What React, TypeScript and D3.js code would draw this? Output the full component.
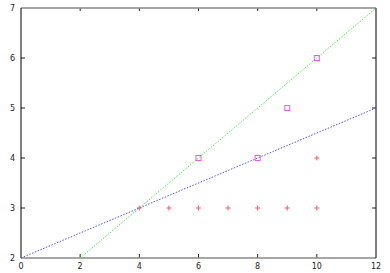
import { useEffect, useRef } from 'react';
import * as d3 from 'd3';

// red "+" points
const plusX = [4, 5, 6, 7, 8, 9, 10, 10];
const plusY = [3, 3, 3, 3, 3, 3, 3, 4];

// magenta square points
const squareX = [6, 8, 9, 10];
const squareY = [4, 4, 5, 6];

// fitted lines: [x0, y0, x1, y1]
const greenLine = [2, 2, 12, 7];
const blueLine = [0, 2, 12, 5];

const xTicks = [0, 2, 4, 6, 8, 10, 12];
const yTicks = [2, 3, 4, 5, 6, 7];

const App = () => {
  const ref = useRef<SVGSVGElement>(null);

  useEffect(() => {
    if (!ref.current) return;
    const svg = d3.select(ref.current);
    svg.selectAll('*').remove();

    const left = 21, right = 376, top = 8, bottom = 258;
    const x = d3.scaleLinear().domain([0, 12]).range([left, right]);
    const y = d3.scaleLinear().domain([2, 7]).range([bottom, top]);

    svg.append('rect').attr('width', 390).attr('height', 273).attr('fill', '#fff');

    // ticks (inward on all four sides)
    const g = svg.append('g').attr('stroke', '#222').attr('stroke-width', 1);
    xTicks.slice(1, -1).forEach((t) => {
      g.append('line').attr('x1', x(t)).attr('x2', x(t)).attr('y1', bottom).attr('y2', bottom - 4);
      g.append('line').attr('x1', x(t)).attr('x2', x(t)).attr('y1', top).attr('y2', top + 3);
    });
    yTicks.slice(1, -1).forEach((t) => {
      g.append('line').attr('x1', left).attr('x2', left + 4).attr('y1', y(t)).attr('y2', y(t));
      g.append('line').attr('x1', right).attr('x2', right - 4).attr('y1', y(t)).attr('y2', y(t));
    });

    // frame: top and bottom gray, sides black
    svg.append('line').attr('x1', left).attr('x2', right).attr('y1', top).attr('y2', top)
      .attr('stroke', '#888').attr('stroke-width', 1.5);
    svg.append('line').attr('x1', left).attr('x2', right).attr('y1', bottom).attr('y2', bottom)
      .attr('stroke', '#888').attr('stroke-width', 1.5);
    svg.append('line').attr('x1', left).attr('x2', left).attr('y1', top).attr('y2', bottom)
      .attr('stroke', '#000').attr('stroke-width', 1);
    svg.append('line').attr('x1', right).attr('x2', right).attr('y1', top).attr('y2', bottom)
      .attr('stroke', '#000').attr('stroke-width', 1);

    // tick labels
    const font = 'DejaVu Sans, sans-serif';
    svg.append('g').selectAll('text').data(xTicks).enter().append('text')
      .attr('x', (d) => x(d)).attr('y', 269)
      .attr('text-anchor', 'middle').attr('font-size', 8).attr('font-family', font)
      .attr('fill', '#222').text((d) => d);
    svg.append('g').selectAll('text').data(yTicks).enter().append('text')
      .attr('x', 15).attr('y', (d) => y(d) + 3)
      .attr('text-anchor', 'end').attr('font-size', 8).attr('font-family', font)
      .attr('fill', '#222').text((d) => d);

    // lines
    const drawLine = (l: number[], color: string) => {
      svg.append('line')
        .attr('x1', x(l[0])).attr('y1', y(l[1]))
        .attr('x2', x(l[2])).attr('y2', y(l[3]))
        .attr('stroke', color).attr('stroke-width', 1)
        .attr('stroke-dasharray', '1.5,1.5');
    };
    drawLine(greenLine, '#44ee44');
    drawLine(blueLine, '#5555ee');

    // red pluses
    const plus = svg.append('g').attr('stroke', '#ff5566').attr('stroke-width', 1);
    plusX.forEach((px, i) => {
      const cx = x(px), cy = y(plusY[i]);
      plus.append('line').attr('x1', cx - 2.5).attr('x2', cx + 2.5).attr('y1', cy).attr('y2', cy);
      plus.append('line').attr('x1', cx).attr('x2', cx).attr('y1', cy - 2.5).attr('y2', cy + 2.5);
    });

    // magenta squares
    svg.append('g').selectAll('rect').data(squareX).enter().append('rect')
      .attr('x', (d) => x(d) - 2.5)
      .attr('y', (_, i) => y(squareY[i]) - 2.5)
      .attr('width', 5).attr('height', 5)
      .attr('fill', 'none').attr('stroke', '#f055f0').attr('stroke-width', 1);
  }, []);

  return (
    <svg ref={ref} width={390} height={273}
      style={{ position: 'absolute', left: 0, top: 0 }} />
  );
};

export default App;
